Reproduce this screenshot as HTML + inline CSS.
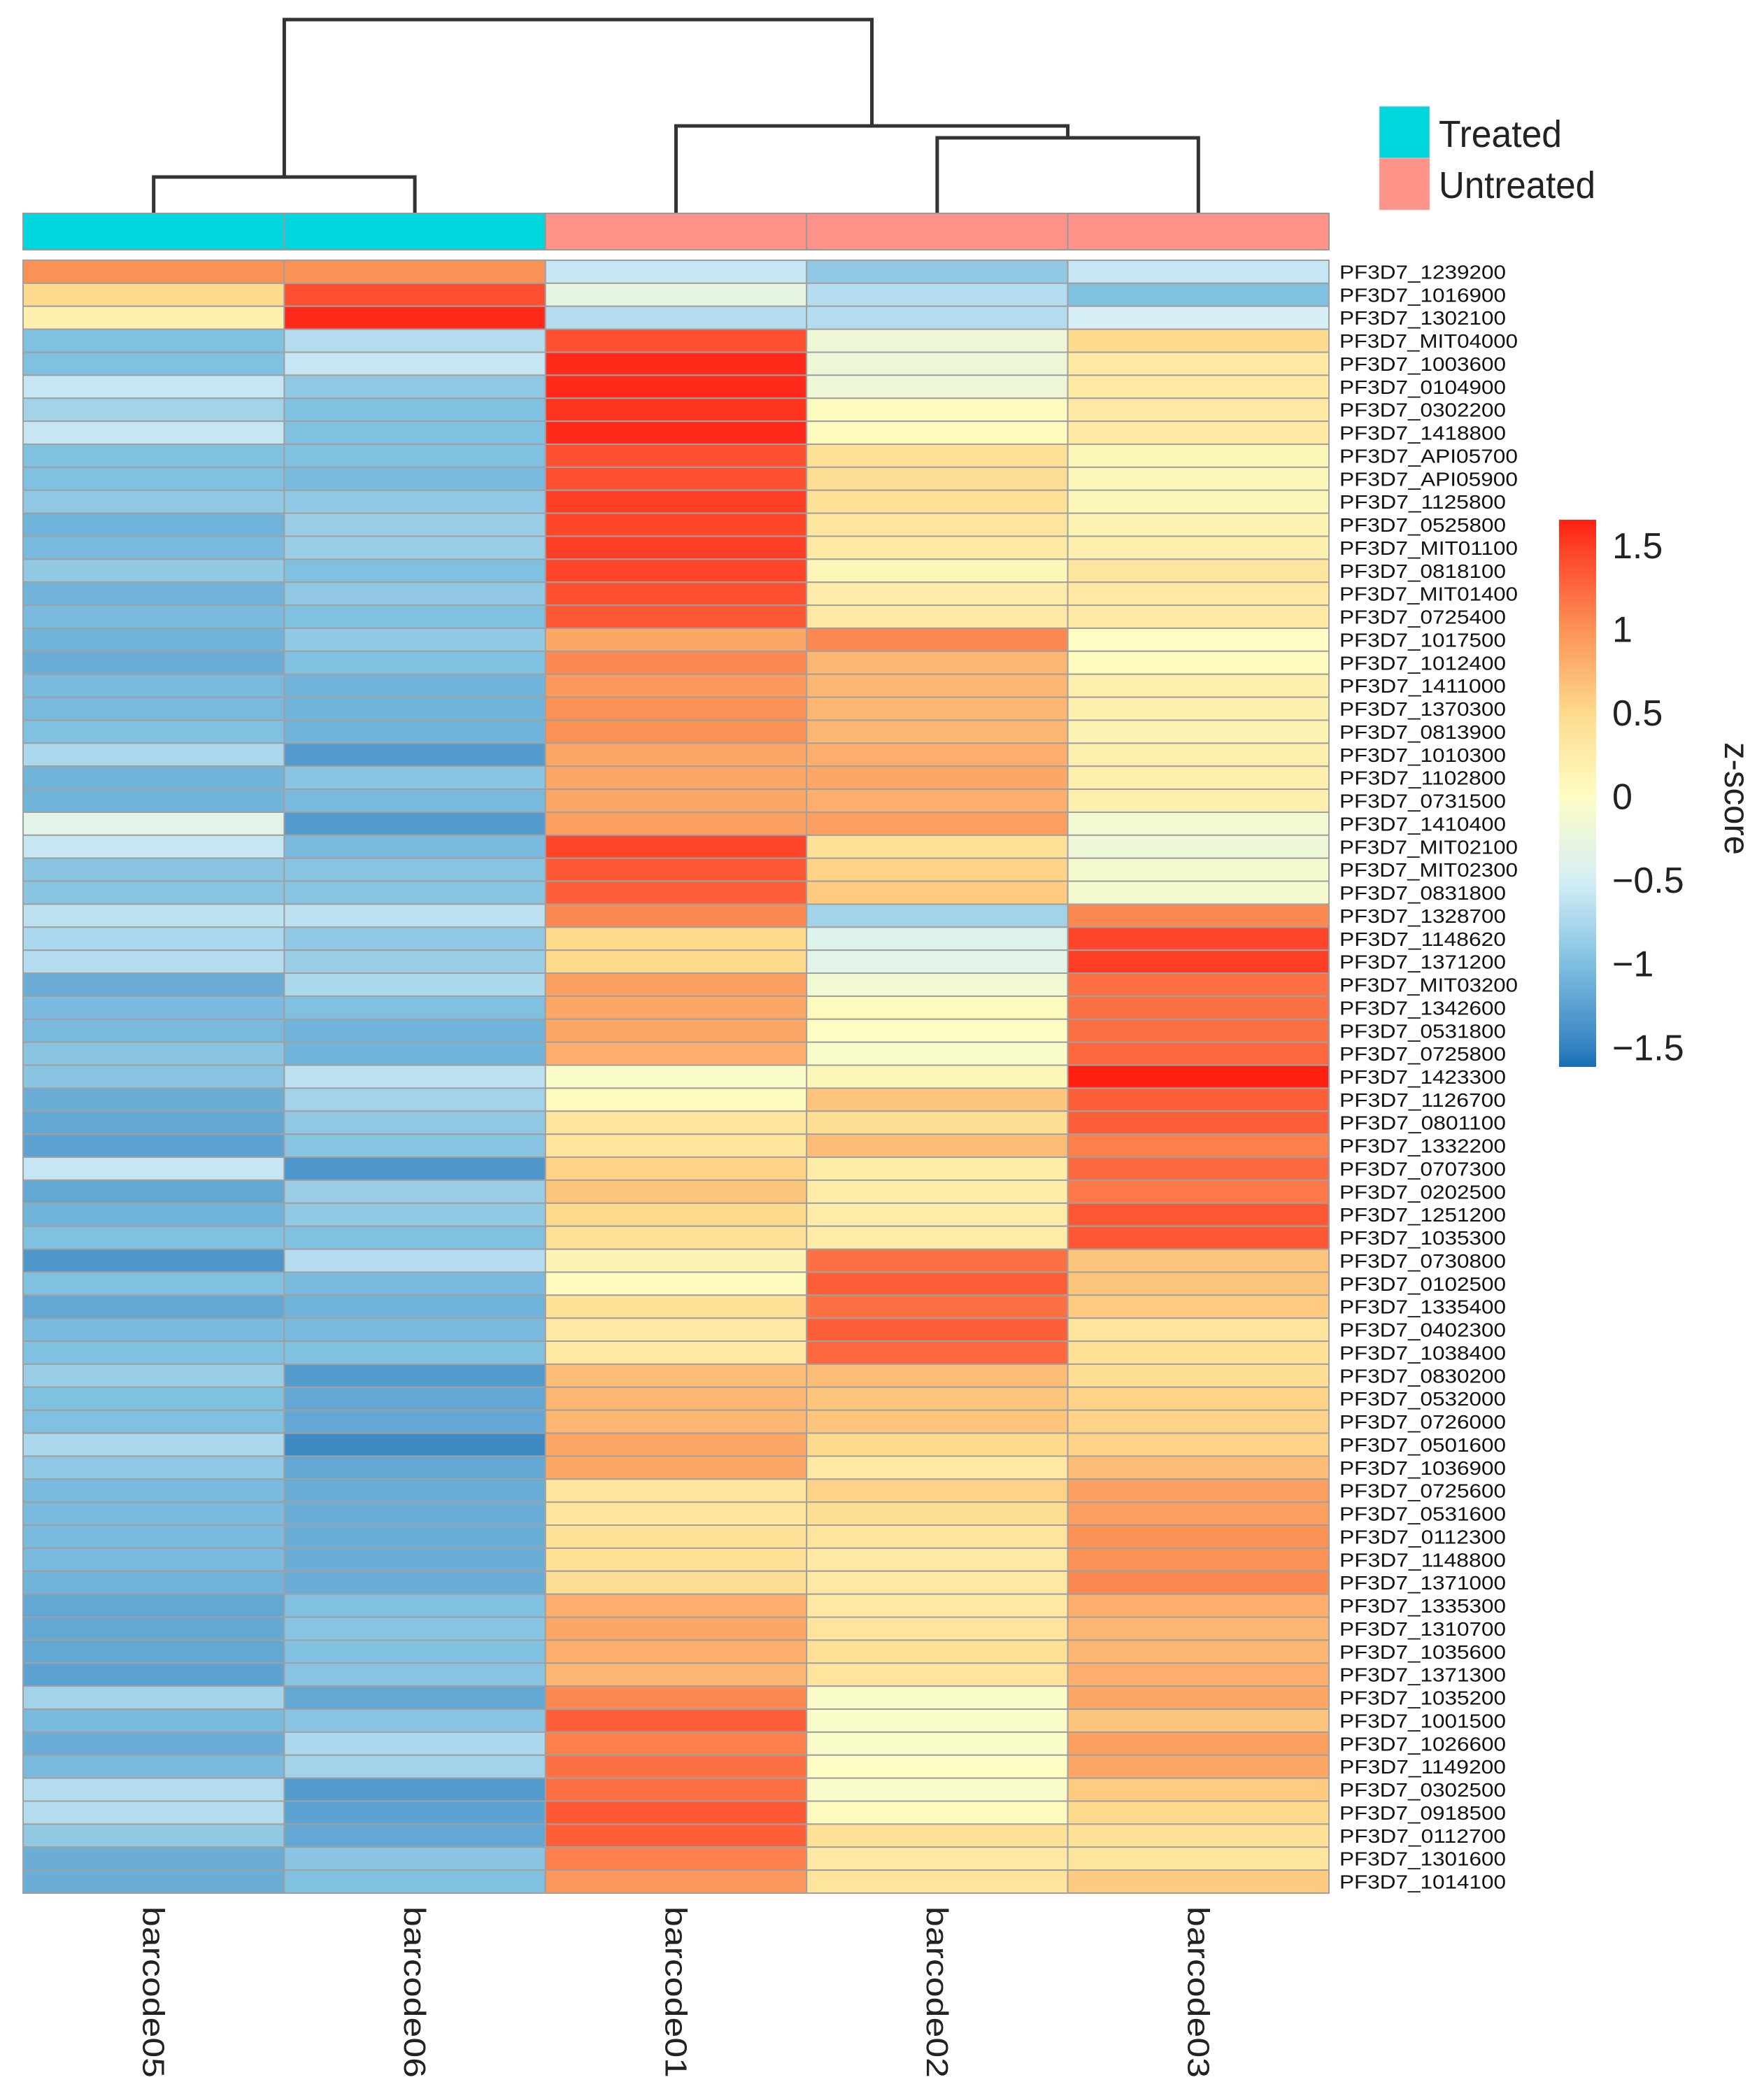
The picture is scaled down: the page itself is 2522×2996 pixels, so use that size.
<!DOCTYPE html>
<html><head><meta charset="utf-8"><style>
html,body{margin:0;padding:0;background:#fff;}
svg{display:block;font-family:"Liberation Sans",Arial,sans-serif;}
</style></head><body>
<svg id="chart" width="2522" height="2996" viewBox="0 0 2522 2996" xmlns="http://www.w3.org/2000/svg">
<defs><linearGradient id="cbgrad" x1="0" y1="1" x2="0" y2="0"></linearGradient></defs>
<g id="dendro"></g>
<g id="annot"></g>
<g id="cells"></g>
<g id="rowlabels"></g>
<g id="collabels"></g>
<g id="legend"></g>
<g id="colorbar"></g>
</svg>
<script>
const samples = ["barcode05","barcode06","barcode01","barcode02","barcode03"];
const groups = ["Treated","Treated","Untreated","Untreated","Untreated"];
const genes = ["PF3D7_1239200","PF3D7_1016900","PF3D7_1302100","PF3D7_MIT04000","PF3D7_1003600","PF3D7_0104900","PF3D7_0302200","PF3D7_1418800","PF3D7_API05700","PF3D7_API05900","PF3D7_1125800","PF3D7_0525800","PF3D7_MIT01100","PF3D7_0818100","PF3D7_MIT01400","PF3D7_0725400","PF3D7_1017500","PF3D7_1012400","PF3D7_1411000","PF3D7_1370300","PF3D7_0813900","PF3D7_1010300","PF3D7_1102800","PF3D7_0731500","PF3D7_1410400","PF3D7_MIT02100","PF3D7_MIT02300","PF3D7_0831800","PF3D7_1328700","PF3D7_1148620","PF3D7_1371200","PF3D7_MIT03200","PF3D7_1342600","PF3D7_0531800","PF3D7_0725800","PF3D7_1423300","PF3D7_1126700","PF3D7_0801100","PF3D7_1332200","PF3D7_0707300","PF3D7_0202500","PF3D7_1251200","PF3D7_1035300","PF3D7_0730800","PF3D7_0102500","PF3D7_1335400","PF3D7_0402300","PF3D7_1038400","PF3D7_0830200","PF3D7_0532000","PF3D7_0726000","PF3D7_0501600","PF3D7_1036900","PF3D7_0725600","PF3D7_0531600","PF3D7_0112300","PF3D7_1148800","PF3D7_1371000","PF3D7_1335300","PF3D7_1310700","PF3D7_1035600","PF3D7_1371300","PF3D7_1035200","PF3D7_1001500","PF3D7_1026600","PF3D7_1149200","PF3D7_0302500","PF3D7_0918500","PF3D7_0112700","PF3D7_1301600","PF3D7_1014100"];
const zB05 = [1.0,0.5,0.2,-1.0,-1.0,-0.6,-0.8,-0.6,-1.0,-1.0,-0.9,-1.1,-1.05,-0.9,-1.1,-1.05,-1.1,-1.15,-1.05,-1.05,-1.0,-0.75,-1.1,-1.1,-0.35,-0.6,-0.95,-0.95,-0.65,-0.75,-0.7,-1.15,-1.05,-1.05,-0.95,-0.95,-1.15,-1.2,-1.25,-0.6,-1.2,-1.1,-1.0,-1.35,-1.0,-1.2,-1.05,-1.0,-0.85,-1.0,-1.0,-0.75,-0.9,-1.05,-1.05,-1.05,-1.05,-1.1,-1.2,-1.2,-1.2,-1.25,-0.8,-1.05,-1.15,-1.05,-0.7,-0.7,-0.9,-1.15,-1.15];
const zB06 = [1.0,1.4,1.6,-0.7,-0.6,-0.9,-1.0,-1.0,-1.0,-1.05,-0.9,-0.85,-0.85,-1.0,-0.9,-1.0,-0.9,-1.0,-1.1,-1.1,-1.1,-1.3,-0.95,-1.05,-1.3,-1.05,-0.95,-0.95,-0.65,-0.9,-0.85,-0.75,-1.0,-1.1,-1.1,-0.65,-0.8,-0.9,-0.95,-1.35,-0.85,-0.9,-1.0,-0.7,-1.05,-1.1,-1.05,-1.0,-1.3,-1.2,-1.2,-1.45,-1.2,-1.15,-1.15,-1.15,-1.15,-1.15,-1.0,-0.95,-1.0,-0.95,-1.2,-0.95,-0.75,-0.8,-1.3,-1.25,-1.2,-0.95,-1.0];
const zB01 = [-0.6,-0.3,-0.7,1.4,1.6,1.6,1.55,1.6,1.4,1.4,1.5,1.45,1.5,1.45,1.4,1.35,0.85,1.05,0.95,1.0,1.0,0.85,0.85,0.85,0.9,1.45,1.35,1.3,1.05,0.5,0.5,0.9,0.85,0.85,0.8,-0.05,0.05,0.35,0.35,0.55,0.65,0.5,0.4,0.15,0.05,0.4,0.3,0.3,0.7,0.75,0.75,0.85,0.85,0.35,0.35,0.4,0.4,0.45,0.8,0.85,0.8,0.75,1.05,1.3,1.1,1.2,1.2,1.35,1.3,1.1,0.95];
const zB02 = [-0.9,-0.7,-0.7,-0.2,-0.2,-0.2,0.05,0.05,0.4,0.45,0.4,0.35,0.3,0.1,0.25,0.3,1.05,0.75,0.75,0.75,0.75,0.8,0.85,0.8,0.9,0.4,0.55,0.6,-0.8,-0.4,-0.35,-0.15,0.05,0.0,-0.05,0.1,0.65,0.45,0.7,0.25,0.25,0.25,0.25,1.2,1.3,1.2,1.3,1.25,0.7,0.65,0.65,0.5,0.3,0.55,0.45,0.35,0.3,0.3,0.3,0.35,0.4,0.35,-0.05,-0.05,-0.05,0.0,-0.05,0.05,0.4,0.3,0.35];
const zB03 = [-0.6,-1.0,-0.5,0.5,0.3,0.3,0.3,0.3,0.1,0.1,0.1,0.15,0.2,0.35,0.3,0.3,0.0,0.05,0.2,0.2,0.15,0.2,0.2,0.2,-0.15,-0.2,-0.1,-0.1,1.05,1.45,1.5,1.2,1.2,1.2,1.25,1.65,1.3,1.3,1.1,1.25,1.15,1.35,1.35,0.65,0.65,0.6,0.35,0.4,0.45,0.55,0.55,0.55,0.7,0.9,0.9,1.0,1.0,1.05,0.8,0.75,0.75,0.8,0.85,0.65,0.9,0.85,0.6,0.5,0.4,0.35,0.6];
const zCols = [zB05, zB06, zB01, zB02, zB03];
const cbTicks = [1.5,1,0.5,0,-0.5,-1,-1.5];
const cbTickLabels = ["1.5","1","0.5","0","\u22120.5","\u22121","\u22121.5"];
const legendLabels = ["Treated","Untreated"];

const NS = "http://www.w3.org/2000/svg";
function mk(tag, attrs, parent){const e=document.createElementNS(NS,tag);for(const k in attrs)e.setAttribute(k,attrs[k]);parent.appendChild(e);return e;}

const HX0=33, HX1=1900, HY0=372, HY1=2706;
const colW=(HX1-HX0)/samples.length, rowH=(HY1-HY0)/genes.length;
function xCol(i){return HX0+i*colW;}
function yRow(j){return HY0+j*rowH;}
const CB_TOP=743, CB_BOT=1525, CB_MAX=1.65, CB_MIN=-1.62;
function yCB(v){return CB_BOT-(v-CB_MIN)/(CB_MAX-CB_MIN)*(CB_BOT-CB_TOP);}

const stops=[[-1.65,[14,104,178]],[-1.5,[55,132,194]],[-1,[128,192,225]],[-0.5,[214,239,246]],[0,[253,253,196]],[0.5,[254,218,140]],[1,[252,145,86]],[1.5,[255,62,38]],[1.65,[255,32,18]]];
function color(v){
  if(v<=stops[0][0])return rgb(stops[0][1]);
  for(let i=1;i<stops.length;i++){if(v<=stops[i][0]){const a=stops[i-1],b=stops[i];const t=(v-a[0])/(b[0]-a[0]);return rgb(a[1].map((c,k)=>c+(b[1][k]-c)*t));}}
  return rgb(stops[stops.length-1][1]);
}
function rgb(c){return "rgb("+c.map(x=>Math.round(x)).join(",")+")";}

const cells=document.getElementById("cells");
zCols.forEach((col,i)=>{col.forEach((v,j)=>{
  const r=mk("rect",{x:xCol(i),y:yRow(j),width:colW,height:rowH,fill:color(v),stroke:"#a0a0a0","stroke-width":2},cells);
  
  
});});

const annot=document.getElementById("annot");
const grpColor={"Treated":"#00d6de","Untreated":"#ff938a"};
groups.forEach((g,i)=>{
  const r=mk("rect",{x:xCol(i),y:305,width:colW,height:52,fill:grpColor[g],stroke:"#999","stroke-width":2},annot);
  
  
});

const rl=document.getElementById("rowlabels");
genes.forEach((g,j)=>{
  const wide=/MIT|API/.test(g);
  const t=mk("text",{x:1915,y:yRow(j)+rowH/2+10,"font-size":28,fill:"#111",textLength:wide?255:238,lengthAdjust:"spacingAndGlyphs"},rl);
  t.textContent=g;
  
  
});

const cl=document.getElementById("collabels");
samples.forEach((s,i)=>{
  const cx=xCol(i)+colW/2;
  const t=mk("text",{x:0,y:0,transform:"translate("+(cx-15)+",2725) rotate(90)","font-size":44,fill:"#222",textLength:245,lengthAdjust:"spacingAndGlyphs"},cl);
  t.textContent=s;
  
  
});

const dg=document.getElementById("dendro");
function seg(pts){
  const p=mk("polyline",{points:pts.map(q=>q.join(",")).join(" "),fill:"none",stroke:"#333","stroke-width":5},dg);
  
  
}
const cc=i=>xCol(i)+colW/2;
const leafY=305;
const hA=253, hB=197, hC=180, hTop=28;
seg([[cc(0),leafY],[cc(0),hA],[cc(1),hA],[cc(1),leafY]]);
seg([[cc(3),leafY],[cc(3),hB],[cc(4),hB],[cc(4),leafY]]);
const mB=(cc(3)+cc(4))/2;
seg([[cc(2),leafY],[cc(2),hC],[mB,hC],[mB,hB]]);
const mA=(cc(0)+cc(1))/2, mC=(cc(2)+mB)/2;
seg([[mA,hA],[mA,hTop],[mC,hTop],[mC,hC]]);

const lg=document.getElementById("legend");
legendLabels.forEach((l,k)=>{
  const r=mk("rect",{x:1972,y:152+k*74,width:72,height:74,fill:grpColor[l],stroke:"#ccc","stroke-width":1},lg);
  
  
  const t=mk("text",{x:2057,y:210+k*73,"font-size":54,fill:"#222",textLength:k?224:176,lengthAdjust:"spacingAndGlyphs"},lg);
  t.textContent=l;
  
  
});

const grad=document.getElementById("cbgrad");
for(let k=0;k<=40;k++){const v=CB_MIN+(CB_MAX-CB_MIN)*k/40;mk("stop",{offset:(k/40),"stop-color":color(v)},grad);}
const cb=document.getElementById("colorbar");
const cbr=mk("rect",{x:2229,y:CB_TOP,width:53,height:CB_BOT-CB_TOP,fill:"url(#cbgrad)"},cb);


cbTicks.forEach((v,k)=>{
  const t=mk("text",{x:2305,y:yCB(v)+19,"font-size":52,fill:"#222"},cb);
  t.textContent=cbTickLabels[k];
  
  
});
const zt=mk("text",{x:0,y:0,transform:"translate(2466,1061) rotate(90)","font-size":50,fill:"#222",textLength:161,lengthAdjust:"spacingAndGlyphs"},cb);
zt.textContent="z-score";


</script>
</body></html>
